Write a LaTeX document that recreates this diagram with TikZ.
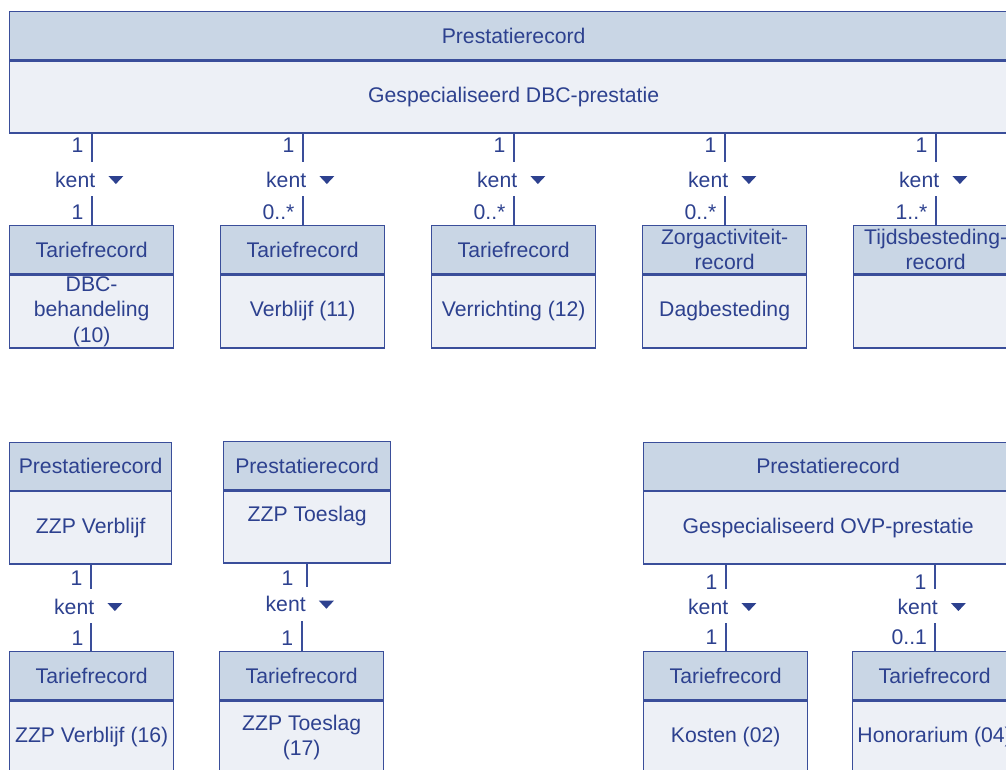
\documentclass[tikz,border=0pt]{standalone}
\usepackage{fontspec}
\setmainfont{Liberation Sans}
\usetikzlibrary{calc}
\definecolor{hdrfill}{HTML}{C9D6E5}
\definecolor{bdyfill}{HTML}{EDF0F6}
\definecolor{edgecol}{HTML}{3A4E9A}
\definecolor{ink}{HTML}{2D418F}
\begin{document}
\begin{tikzpicture}[x=1pt,y=-1pt,
  font=\fontsize{21.2pt}{25.5pt}\selectfont,
  hdr/.style={draw=edgecol, line width=1.3pt, fill=hdrfill, text=ink, inner sep=0pt,
    minimum height=48pt, align=center, anchor=north west},
  bdy/.style={draw=edgecol, line width=1.3pt, fill=bdyfill, text=ink, inner sep=0pt,
    minimum height=73pt, align=center, anchor=north},
  conn/.style={draw=edgecol, line width=2pt},
  kentlbl/.style={fill=white, text=ink, inner xsep=0pt, inner ysep=0pt,
    text height=25pt, text depth=9pt, anchor=base},
  mult/.style={text=ink, inner sep=0pt, anchor=base east},
  tri/.style={fill=ink}
]
\useasboundingbox (0,0) rectangle (1006,769);
\clip (0,0) rectangle (1006,769);
\fill[white] (0,0) rectangle (1006,769);

% ---------- top: DBC prestatie ----------
\node[hdr, minimum width=1008pt] (gh) at (9,11) {Prestatierecord};
\node[bdy, minimum width=1008pt, minimum height=72pt] (gb) at (gh.south) {Gespecialiseerd DBC-prestatie};

\node[hdr, minimum width=164pt] (t1h) at (9,225) {Tariefrecord};
\node[bdy, minimum width=164pt] (t1b) at (t1h.south) {DBC-\\behandeling\\(10)};
\node[hdr, minimum width=164pt] (t2h) at (220,225) {Tariefrecord};
\node[bdy, minimum width=164pt] (t2b) at (t2h.south) {Verblijf (11)};
\node[hdr, minimum width=164pt] (t3h) at (431,225) {Tariefrecord};
\node[bdy, minimum width=164pt] (t3b) at (t3h.south) {Verrichting (12)};
\node[hdr, minimum width=164pt] (t4h) at (642,225) {Zorgactiviteit-\\record};
\node[bdy, minimum width=164pt] (t4b) at (t4h.south) {Dagbesteding};
\node[hdr, minimum width=164pt] (t5h) at (853,225) {Tijdsbesteding-\\record};
\node[bdy, minimum width=164pt] (t5b) at (t5h.south) {};

% ---------- bottom left ----------
\node[hdr, minimum width=162pt] (pz1h) at (9,441.5) {Prestatierecord};
\node[bdy, minimum width=162pt, minimum height=72.5pt] (pz1b) at (pz1h.south) {ZZP Verblijf};
\node[hdr, minimum width=167pt] (pz2h) at (223,441) {Prestatierecord};
\node[bdy, minimum width=167pt, minimum height=72pt] (pz2b) at (pz2h.south) {ZZP Toeslag\\\mbox{}};

\node[hdr, minimum width=164pt] (tz1h) at (9,651) {Tariefrecord};
\node[bdy, minimum width=164pt] (tz1b) at (tz1h.south) {ZZP Verblijf (16)};
\node[hdr, minimum width=164pt] (tz2h) at (219,651) {Tariefrecord};
\node[bdy, minimum width=164pt] (tz2b) at (tz2h.south) {ZZP Toeslag\\(17)};

% ---------- bottom right: OVP ----------
\node[hdr, minimum width=369pt] (poh) at (643,441.5) {Prestatierecord};
\node[bdy, minimum width=369pt, minimum height=72.5pt] (pob) at (poh.south) {Gespecialiseerd OVP-prestatie};

\node[hdr, minimum width=164pt] (tkh) at (643,651) {Tariefrecord};
\node[bdy, minimum width=164pt] (tkb) at (tkh.south) {Kosten (02)};
\node[hdr, minimum width=164pt] (thh) at (852,651) {Tariefrecord};
\node[bdy, minimum width=164pt] (thb) at (thh.south) {Honorarium (04)};

% ---------- connectors ----------
\foreach \t in {t1,t2,t3,t4,t5}{
  \draw[conn] (\t h.north |- gb.south) -- (\t h.north);
}
\draw[conn] (pz1b.south) -- (pz1b.south |- tz1h.north);
\draw[conn] (tkh.north |- pob.south) -- (tkh.north);
\draw[conn] (thh.north |- pob.south) -- (thh.north);

% kent labels (top row)
\foreach \t/\n in {t1/k1,t2/k2,t3/k3,t4/k4,t5/k5}{
  \node[kentlbl] (\n) at ($(\t h.north)+(-2.5,-38)$) {kent\kern28pt\null};
  \fill[tri] ($(\n.base east)+(-15,-11)$) -- ++(15,0) -- ++(-7.5,8) -- cycle;
}
\node[mult] (m1a) at ($(t1h.north)+(-8,-72.5)$) {1};
\node[mult] (m1b) at ($(t1h.north)+(-8,-6)$) {1};
\node[mult] (m2a) at ($(t2h.north)+(-8,-72.5)$) {1};
\node[mult] (m2b) at ($(t2h.north)+(-8,-6)$) {0..*};
\node[mult] (m3a) at ($(t3h.north)+(-8,-72.5)$) {1};
\node[mult] (m3b) at ($(t3h.north)+(-8,-6)$) {0..*};
\node[mult] (m4a) at ($(t4h.north)+(-8,-72.5)$) {1};
\node[mult] (m4b) at ($(t4h.north)+(-8,-6)$) {0..*};
\node[mult] (m5a) at ($(t5h.north)+(-8,-72.5)$) {1};
\node[mult] (m5b) at ($(t5h.north)+(-8,-6)$) {1..*};

% ZZP Verblijf
\node[kentlbl] (k6) at ($(tz1h.north)+(-3.5,-37)$) {kent\kern28pt\null};
\fill[tri] ($(k6.base east)+(-15,-11)$) -- ++(15,0) -- ++(-7.5,8) -- cycle;
\node[mult] (m6a) at ($(pz1b.south)+(-8,21)$) {1};
\node[mult] (m6b) at ($(tz1h.north)+(-8,-6)$) {1};

% ZZP Toeslag (offset line)
\node[kentlbl] (k7) at ($(tz2h.north)+(-2,-39.3)$) {kent\kern28pt\null};
\fill[tri] ($(k7.base east)+(-15,-11)$) -- ++(15,0) -- ++(-7.5,8) -- cycle;
\draw[conn] (pz2b.south) -- (pz2b.south |- k7.north);
\draw[conn] (tz2h.north) -- (tz2h.north |- k7.south);
\node[mult] (m7a) at ($(pz2b.south)+(-13.5,22.3)$) {1};
\node[mult] (m7b) at ($(tz2h.north)+(-8.3,-6)$) {1};

% OVP
\node[kentlbl] (k8) at ($(tkh.north)+(-3.5,-37)$) {kent\kern28pt\null};
\fill[tri] ($(k8.base east)+(-15,-11)$) -- ++(15,0) -- ++(-7.5,8) -- cycle;
\node[kentlbl] (k9) at ($(thh.north)+(-3,-37)$) {kent\kern28pt\null};
\fill[tri] ($(k9.base east)+(-15,-11)$) -- ++(15,0) -- ++(-7.5,8) -- cycle;
\node[mult] (m8a) at ($(tkh.north |- pob.south)+(-8,24.5)$) {1};
\node[mult] (m8b) at ($(tkh.north)+(-8,-6.5)$) {1};
\node[mult] (m9a) at ($(thh.north |- pob.south)+(-8,24.5)$) {1};
\node[mult] (m9b) at ($(thh.north)+(-7.5,-6.5)$) {0..1};
\end{tikzpicture}
\end{document}
